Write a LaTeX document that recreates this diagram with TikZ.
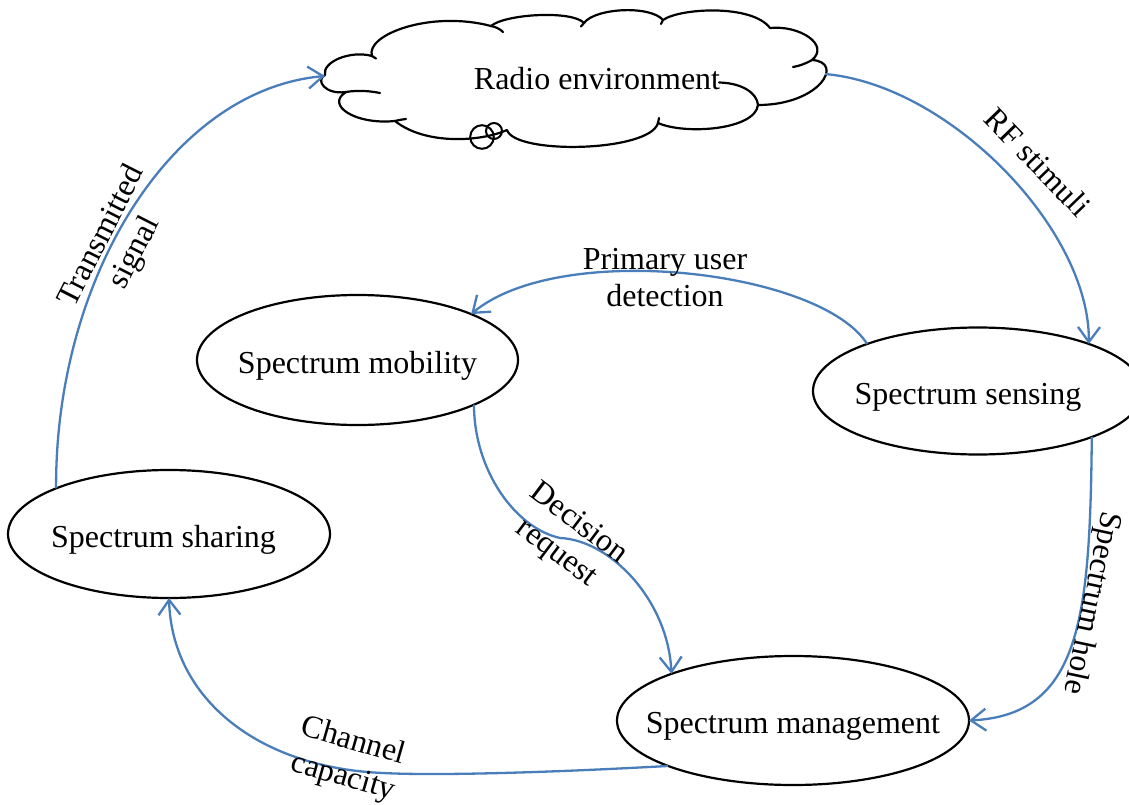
\documentclass[tikz,border=0pt]{standalone}
\usepackage{fontspec}
\setmainfont{Liberation Serif}
\usetikzlibrary{shapes.geometric,arrows.meta}
\definecolor{flowblue}{RGB}{74,126,187}
\tikzset{
  state/.style={draw, ellipse, line width=2.2pt, inner sep=0pt, outer sep=0pt,
    text height=26pt, text depth=0pt, midtext},
  midtext/.style={font=\fontsize{32}{37}\selectfont},
  flow/.style={draw=flowblue, line width=2.3pt, -{Straight Barb[length=15pt,width=22pt]}},
  lbl/.style={midtext, align=center, inner sep=0pt},
  cloudline/.style={draw=black, line width=2.2pt, line join=round, line cap=round},
}
% centred text that does not widen the ellipse; optional shift of the text
\newcommand{\statetext}[2][0pt]{\makebox[0pt]{\hspace*{#1}#2}}
\begin{document}
\begin{tikzpicture}[x=1pt, y=-1pt]
\useasboundingbox (0,0) rectangle (1129,805);
\fill[white] (0,0) rectangle (1129,805);

% ---- the radio environment cloud ----
\draw[cloudline] (325,75) .. controls (322,62) and (350,50) .. (372,56)
  .. controls (365,35) and (430,10) .. (491,26)
  .. controls (505,14) and (572,10) .. (584,23)
  .. controls (595,8) and (650,5) .. (663,20)
  .. controls (680,8) and (752,4) .. (770,28)
  .. controls (800,25) and (830,45) .. (812,60)
  .. controls (845,62) and (820,105) .. (758,105)
  .. controls (755,130) and (685,135) .. (658,123)
  .. controls (650,152) and (515,155) .. (507,130)
  .. controls (480,142) and (425,145) .. (395,121)
  .. controls (355,125) and (325,105) .. (346,92)
  .. controls (325,95) and (315,80) .. (325,75) -- cycle;
% inner puff strokes
\draw[cloudline] (491,26) .. controls (496,27) and (500,29) .. (503,32);
\draw[cloudline] (812,60) .. controls (805,64) and (799,66) .. (793,67);
\draw[cloudline] (758,105) .. controls (757,93) and (742,83) .. (719,82.5);
\draw[cloudline] (346,92) .. controls (358,90) and (370,91) .. (380,93);
\draw[cloudline] (395,121) .. controls (399,120) and (402,119.5) .. (406,119);
\draw[cloudline] (372,56) -- (376,58.5);
\draw[cloudline] (584,23) -- (581,26.5);
\draw[cloudline] (663,20) -- (661,24);
\draw[cloudline] (658,123) -- (659,118);
% small callout bubbles
\draw[line width=2pt] (482,137) circle[radius=11.8pt];
\draw[line width=2pt] (494,131) circle[radius=8pt];

\node[midtext, inner sep=0pt, anchor=base] (radio) at (597,89.5) {Radio environment};
\coordinate (cloudL) at (325,76);
\coordinate (cloudR) at (825,74);

% ---- the four functions of the cycle ----
\node[state, minimum width=321pt, minimum height=130pt] (mob) at (357.5,360) {\statetext{Spectrum mobility}};
\node[state, minimum width=330pt, minimum height=127pt] (sens) at (978,391) {\statetext[-20pt]{Spectrum sensing}};
\node[state, minimum width=322pt, minimum height=128pt] (shar) at (169,534) {\statetext[-11pt]{Spectrum sharing}};
\node[state, minimum width=352pt, minimum height=129pt] (mgmt) at (793,720.5) {\statetext{Spectrum management}};

% ---- connectors ----
\draw[flow] (cloudR) .. controls (950,85) and (1090,230) .. (sens.23.8);
\draw[flow] (sens.157.5) .. controls (820,270) and (560,240) .. (mob.22.7);
\draw[flow] (mob.-21.7) .. controls (474,470) and (515,528) .. (560,538)
  .. controls (610,540) and (668,600) .. (mgmt.159.4);
\draw[flow] (sens.-22.7) .. controls (1090,620) and (1080,715) .. (mgmt.east);
\draw[flow] (mgmt.200.2) .. controls (560,772) and (440,776) .. (383,773)
  .. controls (260,768) and (172,700) .. (shar.south);
\draw[flow] (shar.158) .. controls (55,280) and (170,90) .. (cloudL);

% ---- connector labels ----
\node[lbl, rotate=-46] (lrf) at (1038,162) {RF stimuli};
\node[lbl] (lpu) at (665,278) {Primary user\\detection};
\node[lbl, rotate=-37] (ldr) at (567,539) {Decision\\request};
\node[lbl, rotate=-102] (lsh) at (1091,603) {Spectrum hole};
\node[lbl, rotate=-16] (lcc) at (348,760) {Channel\\capacity};
\node[lbl, rotate=63] (lts) at (119,245) {Transmitted\\signal};
\end{tikzpicture}
\end{document}
